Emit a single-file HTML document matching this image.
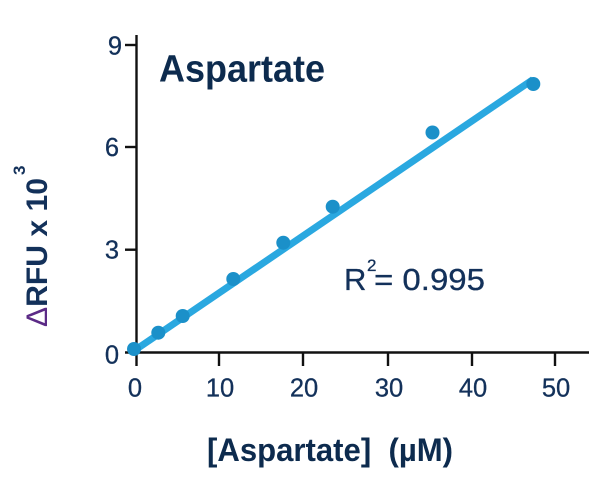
<!DOCTYPE html>
<html>
<head>
<meta charset="utf-8">
<style>
  html, body { margin: 0; padding: 0; background: #ffffff; }
  svg { display: block; }
  text { font-family: "Liberation Sans", sans-serif; }
</style>
</head>
<body>
<svg width="608" height="486" viewBox="0 0 608 486" xmlns="http://www.w3.org/2000/svg">
  <rect width="608" height="486" fill="#ffffff"/>

  <!-- Axes -->
  <g stroke="#111111" stroke-width="2.4" fill="none">
    <line x1="136.5" y1="35" x2="136.5" y2="366"/>
    <line x1="125" y1="352.5" x2="589" y2="352.5"/>
    <!-- y ticks -->
    <line x1="125" y1="45" x2="136.5" y2="45"/>
    <line x1="125" y1="147" x2="136.5" y2="147"/>
    <line x1="125" y1="249.7" x2="136.5" y2="249.7"/>
    <!-- x ticks -->
    <line x1="219" y1="352.5" x2="219" y2="366"/>
    <line x1="303" y1="352.5" x2="303" y2="366"/>
    <line x1="388" y1="352.5" x2="388" y2="366"/>
    <line x1="472" y1="352.5" x2="472" y2="366"/>
    <line x1="555" y1="352.5" x2="555" y2="366"/>
  </g>

  <!-- Y tick labels -->
  <g fill="#13315a" font-size="25.5" text-anchor="end" stroke="#13315a" stroke-width="0.3">
    <text x="122" y="54.5">9</text>
    <text x="119" y="156">6</text>
    <text x="119" y="258.5">3</text>
    <text x="119" y="363.5">0</text>
  </g>

  <!-- X tick labels -->
  <g fill="#13315a" font-size="25.5" text-anchor="middle" stroke="#13315a" stroke-width="0.3">
    <text x="135" y="396.5">0</text>
    <text x="220" y="396.5">10</text>
    <text x="304" y="396.5">20</text>
    <text x="389" y="396.5">30</text>
    <text x="473" y="396.5">40</text>
    <text x="556" y="396.5">50</text>
  </g>

  <!-- Fit line -->
  <line x1="133" y1="351.5" x2="533" y2="79.5" stroke="#2aa8e0" stroke-width="7" stroke-linecap="butt"/>

  <!-- Data points -->
  <g fill="#1b90c9">
    <circle cx="134" cy="349" r="7"/>
    <circle cx="158.3" cy="332.7" r="7"/>
    <circle cx="182.7" cy="316" r="7"/>
    <circle cx="233.3" cy="279" r="7"/>
    <circle cx="283.3" cy="242.7" r="7"/>
    <circle cx="332.7" cy="206.7" r="7"/>
    <circle cx="432.5" cy="132.5" r="7"/>
    <circle cx="533.3" cy="84" r="7"/>
  </g>

  <!-- Title -->
  <text x="159" y="81.5" font-size="38" font-weight="bold" fill="#0d2b4e" textLength="166" lengthAdjust="spacingAndGlyphs">Aspartate</text>

  <!-- R^2 -->
  <g fill="#13315a" stroke="#13315a" stroke-width="0.3">
    <text x="344" y="290" font-size="31">R</text>
    <text x="367" y="271" font-size="17">2</text>
    <text x="374" y="290" font-size="31" textLength="111" lengthAdjust="spacingAndGlyphs">= 0.995</text>
  </g>

  <!-- X axis title -->
  <text x="207" y="461" font-size="32" font-weight="bold" fill="#0d2b4e" textLength="246" lengthAdjust="spacingAndGlyphs" xml:space="preserve">[Aspartate]  (µM)</text>

  <!-- Y axis title -->
  <g transform="translate(47,327) rotate(-90)">
    <text x="0" y="0" font-size="30" font-weight="bold" fill="#13315a" textLength="149" lengthAdjust="spacingAndGlyphs"><tspan fill="#5b2a86" font-weight="normal">Δ</tspan>RFU x 10</text>
    <text x="152" y="-22" font-size="17" font-weight="bold" fill="#13315a">3</text>
  </g>
</svg>
</body>
</html>
